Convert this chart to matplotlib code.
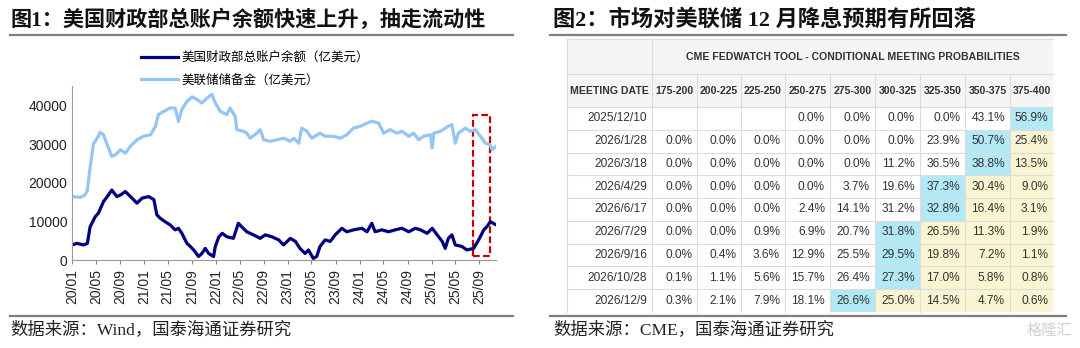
import matplotlib
matplotlib.use("Agg")
from matplotlib import pyplot as plt
from matplotlib.patches import Rectangle
import matplotlib.dates as mdates
import pandas as pd

plt.rcParams['font.family'] = ['Liberation Sans', 'Noto Sans CJK SC']

# --- left chart: TGA balance and Fed reserves (100 mn USD) ---
tga_dates = ['2020-01-01', '2020-01-26', '2020-02-29', '2020-03-19', '2020-04-02', '2020-04-28',
             '2020-05-14', '2020-06-09', '2020-07-04', '2020-07-21', '2020-08-16', '2020-09-03',
             '2020-09-28', '2020-11-01', '2020-11-26', '2020-12-22', '2021-01-25', '2021-02-20',
             '2021-03-07', '2021-03-24', '2021-04-18', '2021-05-13', '2021-06-08', '2021-06-25',
             '2021-07-12', '2021-08-07', '2021-08-24', '2021-09-10', '2021-10-05', '2021-10-22',
             '2021-11-08', '2021-11-25', '2021-12-20', '2021-12-29', '2022-01-16', '2022-02-02',
             '2022-02-26', '2022-03-31', '2022-04-25', '2022-05-12', '2022-06-07', '2022-07-11',
             '2022-08-14', '2022-09-09', '2022-10-13', '2022-11-16', '2022-12-11', '2023-01-14',
             '2023-02-09', '2023-03-04', '2023-03-30', '2023-04-16', '2023-05-11', '2023-05-28',
             '2023-06-14', '2023-07-10', '2023-08-05', '2023-08-30', '2023-10-03', '2023-10-28',
             '2023-12-01', '2024-01-13', '2024-02-08', '2024-03-03', '2024-03-20', '2024-04-23',
             '2024-05-27', '2024-06-30', '2024-08-03', '2024-09-07', '2024-10-10', '2024-11-05',
             '2024-12-09', '2025-01-04', '2025-01-29', '2025-02-24', '2025-03-11', '2025-03-27',
             '2025-04-14', '2025-05-01', '2025-06-04', '2025-06-29', '2025-08-02', '2025-08-28',
             '2025-09-23', '2025-10-09', '2025-10-26', '2025-11-24']
tga_vals = [3900, 4300, 3900, 4300, 8600, 11200, 12100, 15100, 16800, 18100, 16400, 16800,
            17700, 16000, 14700, 16000, 16400, 15600, 11700, 10800, 9900, 9100, 7800, 8200,
            6900, 4300, 3500, 2600, 900, 1700, 3000, 1700, 900, 3500, 6000, 6900,
            6000, 5600, 9500, 8600, 7300, 6500, 5600, 6500, 6000, 5200, 3900, 5600,
            4800, 3000, 1700, 2600, 400, 900, 3500, 5200, 4800, 6500, 8200, 7300,
            7800, 8200, 7300, 9500, 7300, 7800, 7300, 7800, 8200, 7300, 8200, 7800,
            6900, 8200, 6500, 4800, 3000, 5600, 6500, 3900, 3500, 2600, 3000, 5200,
            7800, 8600, 9900, 9100]

res_dates = ['2020-01-01', '2020-02-12', '2020-03-07', '2020-03-19', '2020-04-02', '2020-04-19',
             '2020-05-14', '2020-05-22', '2020-06-09', '2020-06-26', '2020-07-21', '2020-08-08',
             '2020-09-03', '2020-09-28', '2020-10-23', '2020-11-26', '2020-12-30', '2021-02-03',
             '2021-02-28', '2021-03-15', '2021-04-10', '2021-05-13', '2021-06-08', '2021-06-25',
             '2021-07-12', '2021-08-07', '2021-09-02', '2021-09-27', '2021-10-22', '2021-11-17',
             '2021-12-12', '2021-12-29', '2022-01-24', '2022-02-26', '2022-03-14', '2022-04-09',
             '2022-04-17', '2022-05-21', '2022-06-07', '2022-06-24', '2022-07-28', '2022-08-14',
             '2022-09-01', '2022-10-04', '2022-11-07', '2022-12-11', '2023-01-14', '2023-02-01',
             '2023-02-26', '2023-03-13', '2023-04-08', '2023-05-03', '2023-06-14', '2023-07-10',
             '2023-08-21', '2023-09-25', '2023-10-28', '2023-12-01', '2024-01-05', '2024-02-08',
             '2024-03-03', '2024-04-07', '2024-05-02', '2024-06-05', '2024-07-09', '2024-08-03',
             '2024-09-07', '2024-10-02', '2024-10-27', '2024-11-22', '2024-12-26', '2025-01-04',
             '2025-01-12', '2025-02-15', '2025-03-27', '2025-04-14', '2025-05-01', '2025-05-17',
             '2025-06-21', '2025-07-16', '2025-08-11', '2025-09-06', '2025-10-01', '2025-10-26',
             '2025-11-04', '2025-11-24']
res_vals = [16400, 16200, 16800, 18000, 24000, 30000, 32000, 33000, 32400, 30000, 26800, 27200,
            28500, 27600, 29400, 31100, 32000, 32400, 34600, 37600, 38400, 39300, 39300, 35800,
            38900, 41000, 42200, 41500, 40600, 41900, 42800, 40600, 38400, 37600, 39300, 37100,
            33700, 33300, 32800, 31500, 32800, 33700, 31100, 30700, 31100, 31500, 30700, 31500,
            30200, 34100, 33300, 31500, 32800, 32000, 32000, 31500, 32400, 34100, 34600, 35400,
            35900, 35400, 32800, 33700, 32800, 33300, 32000, 32800, 31100, 32000, 32400, 29000,
            32800, 33300, 34600, 35000, 30200, 32800, 34100, 33300, 33700, 32000, 30200, 29800,
            28500, 29400]

tga_label = '美国财政部总账户余额（亿美元）'
res_label = '美联储储备金（亿美元）'

# --- right table: CME FedWatch conditional meeting probabilities (%) ---
meeting_dates = ['2025/12/10', '2026/1/28', '2026/3/18', '2026/4/29', '2026/6/17',
                 '2026/7/29', '2026/9/16', '2026/10/28', '2026/12/9']
rate_ranges = ['175-200', '200-225', '225-250', '250-275', '275-300',
               '300-325', '325-350', '350-375', '375-400']
probs = [
    [None, None, None, 0.0, 0.0, 0.0, 0.0, 43.1, 56.9],
    [0.0, 0.0, 0.0, 0.0, 0.0, 0.0, 23.9, 50.7, 25.4],
    [0.0, 0.0, 0.0, 0.0, 0.0, 11.2, 36.5, 38.8, 13.5],
    [0.0, 0.0, 0.0, 0.0, 3.7, 19.6, 37.3, 30.4, 9.0],
    [0.0, 0.0, 0.0, 2.4, 14.1, 31.2, 32.8, 16.4, 3.1],
    [0.0, 0.0, 0.9, 6.9, 20.7, 31.8, 26.5, 11.3, 1.9],
    [0.0, 0.4, 3.6, 12.9, 25.5, 29.5, 19.8, 7.2, 1.1],
    [0.1, 1.1, 5.6, 15.7, 26.4, 27.3, 17.0, 5.8, 0.8],
    [0.3, 2.1, 7.9, 18.1, 26.6, 25.0, 14.5, 4.7, 0.6],
]

fig = plt.figure(figsize=(10.8, 3.48), dpi=100)

# overlay in pixel coordinates for titles, rules and the table
ov = fig.add_axes([0, 0, 1, 1])
ov.set_xlim(0, 1080)
ov.set_ylim(348, 0)
ov.axis('off')

title_font = ['Liberation Serif', 'Noto Sans CJK SC']
ov.text(11, 20, '图1：美国财政部总账户余额快速上升，抽走流动性', fontsize=15.2, fontweight='bold',
        family=title_font, va='center', ha='left', color='#111111')
ov.text(553, 20, '图2：市场对美联储 12 月降息预期有所回落', fontsize=16, fontweight='bold',
        family=title_font, va='center', ha='left', color='#111111')
for x0, x1 in [(10, 513), (550, 1066)]:
    ov.plot([x0, x1], [35, 35], color='#7f7f7f', lw=1.6)
    ov.plot([x0, x1], [316, 316], color='#7f7f7f', lw=1.6)
ov.text(10, 330, '数据来源：Wind，国泰海通证券研究', fontsize=12.5, family=title_font,
        va='center', ha='left', color='#222222')
ov.text(553, 330, '数据来源：CME，国泰海通证券研究', fontsize=12.5, family=title_font,
        va='center', ha='left', color='#222222')
ov.text(1072, 330, '格隆汇', fontsize=11, family=['Noto Sans CJK SC'], va='center',
        ha='right', color='#d0d0d0')

# table
col_edges = [567, 652, 697, 741, 785, 830, 875, 920, 965, 1010, 1053]
top, h1, h2 = 39, 74, 107
row_h = (312 - h2) / len(meeting_dates)
grid = '#dcdcdc'
hdr_bg = '#f5f5f5'
blue = '#b3e9f7'
yellow = '#f9f5d2'
txt = '#333333'

ov.add_patch(Rectangle((col_edges[0], top), col_edges[-1] - col_edges[0], h2 - top,
                       facecolor=hdr_bg, edgecolor='none'))
ov.plot([col_edges[1], col_edges[1]], [top, h1], color=grid, lw=0.8)
ov.plot([col_edges[0], col_edges[-1]], [h1, h1], color=grid, lw=0.8)
ov.text((col_edges[1] + col_edges[-1]) / 2, (top + h1) / 2,
        'CME FEDWATCH TOOL - CONDITIONAL MEETING PROBABILITIES',
        fontsize=7.6, fontweight='bold', ha='center', va='center', color=txt)
ov.text((col_edges[0] + col_edges[1]) / 2, (h1 + h2) / 2, 'MEETING DATE',
        fontsize=7.6, fontweight='bold', ha='center', va='center', color=txt)
for j, rr in enumerate(rate_ranges):
    ov.text((col_edges[j + 1] + col_edges[j + 2]) / 2, (h1 + h2) / 2, rr,
            fontsize=7.6, fontweight='bold', ha='center', va='center', color=txt)

for i, d in enumerate(meeting_dates):
    y0 = h2 + i * row_h
    row = probs[i]
    vals = [v if v is not None else -1 for v in row]
    imax = vals.index(max(vals))
    for j, v in enumerate(row):
        x0 = col_edges[j + 1]
        w = col_edges[j + 2] - x0
        fc = 'white'
        if j == imax:
            fc = blue
        elif j > imax:
            fc = yellow
        ov.add_patch(Rectangle((x0, y0), w, row_h, facecolor=fc, edgecolor='none'))
        if v is not None:
            ov.text(x0 + w - 5, y0 + row_h / 2, f'{v:.1f}%', fontsize=8.6,
                    ha='right', va='center', color=txt)
    ov.text(col_edges[1] - 5, y0 + row_h / 2, d, fontsize=8.6, ha='right',
            va='center', color=txt)
    ov.plot([col_edges[0], col_edges[-1]], [y0, y0], color=grid, lw=0.8)

for x in col_edges[1:-1]:
    ov.plot([x, x], [h1, 312], color=grid, lw=0.8)
ov.plot([col_edges[0], col_edges[0]], [top, 312], color=grid, lw=0.8)
ov.plot([col_edges[0], col_edges[-1]], [top, top], color=grid, lw=0.8)

# left line chart
ax = fig.add_axes([72 / 1080, 1 - 260 / 348, (496 - 72) / 1080, (260 - 86) / 348])
ax.patch.set_alpha(0)
tga_d = pd.to_datetime(tga_dates)
res_d = pd.to_datetime(res_dates)
l1, = ax.plot(tga_d, tga_vals, color='#000080', lw=2.3, label=tga_label)
l2, = ax.plot(res_d, res_vals, color='#93c6f6', lw=2.3, label=res_label)

ax.set_xlim(pd.Timestamp('2020-01-01'), pd.Timestamp('2025-11-24'))
ax.set_ylim(0, 45000)
ax.set_yticks(range(0, 40001, 10000))
ax.set_xticks(pd.date_range('2020-01-01', '2025-09-01', freq='4MS'))
ax.xaxis.set_major_formatter(mdates.DateFormatter('%y/%m'))
ax.tick_params(axis='x', rotation=90, labelsize=10, length=3, color='#888888', colors='#222222')
ax.tick_params(axis='y', labelsize=10, length=0, colors='#222222')
for s in ['top', 'right']:
    ax.spines[s].set_visible(False)
for s in ['left', 'bottom']:
    ax.spines[s].set_color('#999999')

box_x0 = mdates.date2num(pd.Timestamp('2025-08-01'))
box_x1 = mdates.date2num(pd.Timestamp('2025-10-22'))
ax.add_patch(Rectangle((box_x0, 1000), box_x1 - box_x0, 36500, fill=False,
                       edgecolor='#c00000', lw=1.6, ls=(0, (3, 1.5))))

fig.legend(handles=[l1, l2], loc='upper left', bbox_to_anchor=(130 / 1080, 1 - 40 / 348),
           frameon=False, handlelength=2.9, labelspacing=0.75,
           handletextpad=0.3, prop={'family': ['Noto Sans CJK SC'], 'size': 9})

fig.savefig('out.png', dpi=100)
